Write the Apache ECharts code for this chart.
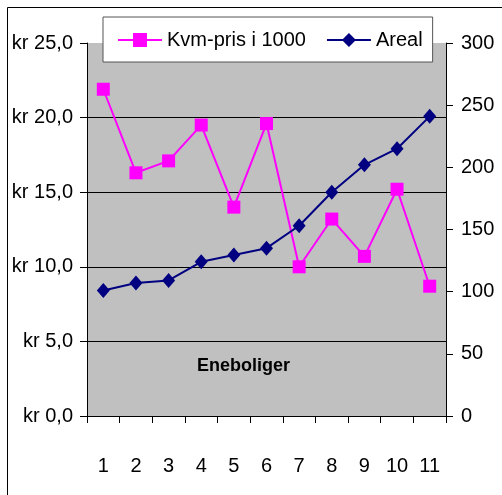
<!DOCTYPE html>
<html>
<head>
<meta charset="utf-8">
<script src="https://cdn.jsdelivr.net/npm/echarts@6/dist/echarts.min.js"></script>
<style>
html,body{margin:0;padding:0;background:#fff;}
#c{width:502px;height:495px;}
</style>
</head>
<body>
<div id="c"></div>
<script>
var categories = ['1','2','3','4','5','6','7','8','9','10','11'];
var kvmPris = [21.9, 16.3, 17.1, 19.5, 14.0, 19.6, 10.0, 13.2, 10.7, 15.2, 8.7];
var areal = [101, 107, 109, 124, 129.5, 135, 153, 180, 202, 215, 241];
var seriesNames = ['Kvm-pris i 1000', 'Areal'];
var chartLabel = 'Eneboliger';

var FONT = '"Liberation Sans", Arial, sans-serif';
var FS = 20;
var chart = echarts.init(document.getElementById('c'), null, {renderer: 'canvas'});
chart.setOption({
  animation: false,
  backgroundColor: '#ffffff',
  textStyle: {fontFamily: FONT},
  grid: {
    left: 87, right: 56, top: 43, bottom: 79,
    show: true, backgroundColor: '#C0C0C0', borderWidth: 0
  },
  legend: {
    left: 103, top: 17,
    padding: [13, 10, 12, 14],
    itemGap: 20,
    itemWidth: 44, itemHeight: 17.5,
    backgroundColor: '#ffffff',
    borderColor: '#555555', borderWidth: 1,
    textStyle: {fontFamily: FONT, fontSize: FS, color: '#000'},
    data: seriesNames
  },
  graphic: [
    {type: 'rect', shape: {x: 7.5, y: 7.5, width: 600, height: 600}, style: {fill: 'none', stroke: '#000', lineWidth: 1}, z: -10, silent: true},
    {type: 'text', left: 197, top: 357, style: {text: chartLabel, font: 'bold 18px ' + FONT, fill: '#000'}, z: 10}
  ],
  xAxis: {
    type: 'category',
    data: categories,
    boundaryGap: true,
    axisLine: {lineStyle: {color: '#000', width: 1}},
    axisTick: {show: true, length: 7, lineStyle: {color: '#000'}},
    axisLabel: {color: '#000', fontSize: FS, fontFamily: FONT, margin: 40, interval: 0},
    splitLine: {show: false}
  },
  yAxis: [
    {
      type: 'value', min: 0, max: 25, interval: 5, position: 'left',
      axisLine: {show: true, lineStyle: {color: '#000'}},
      axisTick: {show: true, length: 7, lineStyle: {color: '#000'}},
      axisLabel: {color: '#000', fontSize: FS, fontFamily: FONT, margin: 14,
        formatter: function (v) { return 'kr ' + v.toFixed(1).replace('.', ','); }},
      splitLine: {show: true, showMaxLine: false, showMinLine: false, lineStyle: {color: '#000', width: 1}}
    },
    {
      type: 'value', min: 0, max: 300, interval: 50, position: 'right',
      axisLine: {show: true, lineStyle: {color: '#000'}},
      axisTick: {show: true, length: 7, lineStyle: {color: '#000'}},
      axisLabel: {color: '#000', fontSize: FS, fontFamily: FONT, margin: 15},
      splitLine: {show: false}
    }
  ],
  series: [
    {
      name: seriesNames[0], type: 'line', yAxisIndex: 0, data: kvmPris,
      symbol: 'rect', symbolSize: 13,
      lineStyle: {color: '#FF00FF', width: 2},
      itemStyle: {color: '#FF00FF'},
      z: 3
    },
    {
      name: seriesNames[1], type: 'line', yAxisIndex: 1, data: areal,
      symbol: 'diamond', symbolSize: [13, 15],
      lineStyle: {color: '#000080', width: 2},
      itemStyle: {color: '#000080'},
      z: 4
    }
  ]
});
</script>
</body>
</html>
